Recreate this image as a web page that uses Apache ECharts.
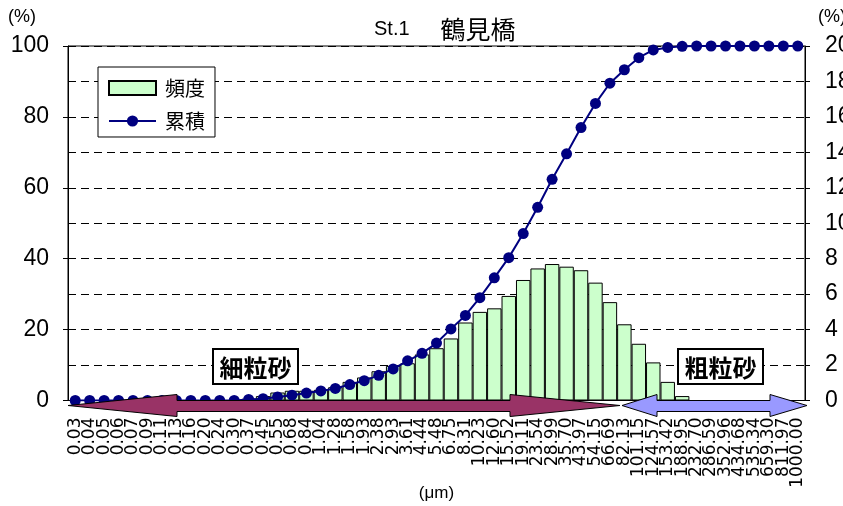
<!DOCTYPE html>
<html><head><meta charset="utf-8">
<script src="https://cdn.jsdelivr.net/npm/echarts@6/dist/echarts.min.js"></script>
<style>html,body{margin:0;padding:0;background:#fff;overflow:hidden}#c{width:843px;height:506px}</style>
</head><body><div id="c"></div>
<script>
// particle size classes (μm)
const categories = ['0.03','0.04','0.05','0.06','0.07','0.09','0.11','0.13','0.16','0.20','0.24','0.30','0.37','0.45','0.55','0.68','0.84','1.04','1.28','1.58','1.93','2.38','2.93','3.61','4.44','5.48','6.75','8.31','10.23','12.60','15.52','19.11','23.54','28.99','35.70','43.97','54.15','66.69','82.13','101.15','124.57','153.42','188.95','232.70','286.59','352.96','434.68','535.34','659.30','811.97','1000.00'];
// 頻度 (%), right axis
const frequency = [0,0,0,0,0,0,0,0,0,0,0,0,0.1,0.25,0.45,0.55,0.55,0.6,0.75,1.05,1.3,1.65,1.95,2.1,2.6,2.95,3.5,4.4,5.0,5.2,5.9,6.8,7.45,7.7,7.55,7.35,6.65,5.55,4.3,3.2,2.15,1.05,0.25,0,0,0,0,0,0,0,0];
// 累積 (%), left axis
const cumulative = [0,0,0,0,0,0,0,0,0,0,0,0,0.3,0.5,1.0,1.5,2.1,2.7,3.4,4.5,5.6,7.1,8.9,11.2,13.3,16.2,20.2,24.0,29.0,34.6,40.3,47.1,54.5,62.4,69.6,77.0,83.8,89.5,93.3,96.7,98.9,99.6,99.9,100,100,100,100,100,100,100,100];
const leftAxisRange = [0, 100, 20];
const rightAxisRange = [0, 20, 2];
const seriesNames = ['頻度', '累積'];
const titleParts = ['St.1', '鶴見橋'];
const rangeLabels = ['細粒砂', '粗粒砂'];

const numFont = "'Liberation Sans', Arial, sans-serif";
const jpFont = "'Liberation Sans', 'Noto Sans CJK JP', sans-serif";

const chart = echarts.init(document.getElementById('c'));

function arrow(x1, x2, hl, hr, fill) {
  const yT = 400.5, yB = 411.5, hT = 394.5, hB = 416.5, yM = 405.5;
  return {
    type: 'polygon', z: 100,
    shape: { points: [[x1, yM], [x1 + hl, hT], [x1 + hl, yT], [x2 - hr, yT], [x2 - hr, hT], [x2, yM], [x2 - hr, hB], [x2 - hr, yB], [x1 + hl, yB], [x1 + hl, hB]] },
    style: { fill: fill, stroke: '#000', lineWidth: 1 }
  };
}
function box(x, y, w, h, text) {
  return {
    type: 'group', z: 101, children: [
      { type: 'rect', z: 101, shape: { x: x, y: y, width: w, height: h }, style: { fill: '#fff', stroke: '#000', lineWidth: 2 } },
      { type: 'text', z: 102, x: x + w / 2, y: y + h / 2 + 1, style: { text: text, fill: '#000', font: "bold 24px 'Noto Sans CJK JP', sans-serif", textAlign: 'center', textVerticalAlign: 'middle' } }
    ]
  };
}

chart.setOption({
  animation: false,
  backgroundColor: '#fff',
  title: {
    text: '{a|' + titleParts[0] + '}{s|}{b|' + titleParts[1] + '}', left: 369, top: 12,
    textStyle: {
      fontSize: 20, fontWeight: 'normal', color: '#000', fontFamily: jpFont,
      rich: {
        a: { fontSize: 20, fontFamily: numFont, color: '#000', verticalAlign: 'middle' },
        s: { width: 31 },
        b: { fontSize: 25, fontFamily: "'Noto Sans CJK JP', sans-serif", color: '#000', verticalAlign: 'middle' }
      }
    }
  },
  legend: {
    orient: 'vertical', left: 98, top: 67,
    padding: [11, 10, 6, 10], itemGap: 13, itemWidth: 47, itemHeight: 14,
    backgroundColor: '#fff', borderColor: '#000', borderWidth: 1,
    textStyle: { fontSize: 20, color: '#000', fontFamily: "'Noto Sans CJK JP', sans-serif", padding: [0, 0, 0, 4] },
    data: [{ name: seriesNames[0], icon: 'rect' }, { name: seriesNames[1] }]
  },
  grid: {
    left: 68, right: 38, top: 46, bottom: 105.5, containLabel: false,
    outerBoundsMode: 'none',
    show: true, borderColor: '#000', borderWidth: 1, backgroundColor: 'transparent'
  },
  xAxis: {
    type: 'category', data: categories, boundaryGap: true,
    name: '(μm)', nameLocation: 'middle', nameGap: 84, nameMoveOverlap: false,
    nameTextStyle: { fontSize: 17, color: '#000', fontFamily: jpFont },
    axisLine: { lineStyle: { color: '#000', width: 1 } },
    axisTick: { inside: true, length: 6, lineStyle: { color: '#000' } },
    axisLabel: { interval: 0, rotate: 90, margin: 17, fontSize: 17, color: '#000', fontFamily: "'DejaVu Sans', sans-serif" },
    splitLine: { show: false }
  },
  yAxis: [
    {
      type: 'value', min: leftAxisRange[0], max: leftAxisRange[1], interval: leftAxisRange[2],
      axisLine: { show: true, lineStyle: { color: '#000' } },
      axisTick: { show: true, length: 5, lineStyle: { color: '#000' } },
      axisLabel: { margin: 19, fontSize: 23, color: '#000', fontFamily: numFont },
      splitLine: { show: false }
    },
    {
      type: 'value', min: rightAxisRange[0], max: rightAxisRange[1], interval: rightAxisRange[2],
      axisLine: { show: true, lineStyle: { color: '#000' } },
      axisTick: { show: true, length: 5, lineStyle: { color: '#000' } },
      axisLabel: { margin: 20, fontSize: 23, color: '#000', fontFamily: numFont },
      splitLine: { show: true, lineStyle: { color: '#000', width: 1, type: [8, 5] } }
    }
  ],
  series: [
    {
      name: seriesNames[0], type: 'bar', yAxisIndex: 1, data: frequency,
      barCategoryGap: '0%', z: 2,
      itemStyle: { color: '#CCFFCC', borderColor: '#000', borderWidth: 1 }
    },
    {
      name: seriesNames[1], type: 'line', yAxisIndex: 0, data: cumulative,
      symbol: 'circle', symbolSize: 11, z: 3,
      lineStyle: { color: '#000080', width: 2 },
      itemStyle: { color: '#000080' }
    }
  ],
  graphic: [
    { type: 'text', left: 8, top: 8, style: { text: '(%)', fill: '#000', font: "18px " + numFont } },
    { type: 'text', left: 818, top: 8, style: { text: '(%)', fill: '#000', font: "18px " + numFont } },
    arrow(68, 620, 109, 110, '#993366'),
    arrow(622, 807, 35, 37, '#9999FF'),
    box(213, 349, 85, 35, rangeLabels[0]),
    box(678, 349, 85, 35, rangeLabels[1])
  ]
});
</script></body></html>
